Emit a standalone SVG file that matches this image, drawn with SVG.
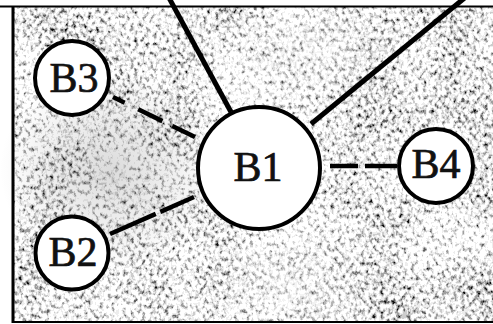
<svg xmlns="http://www.w3.org/2000/svg" width="493" height="324" viewBox="0 0 493 324">
  <defs>
    <!-- speckled grey ground: coarse-grained noise posterised to black, greys and white -->
    <filter id="grain" x="0" y="0" width="100%" height="100%" color-interpolation-filters="sRGB">
      <feTurbulence type="fractalNoise" baseFrequency="0.26 0.21" numOctaves="2" seed="7" result="fineRaw"/>
      <feColorMatrix in="fineRaw" type="matrix" values="1 0 0 0 0  1 0 0 0 0  1 0 0 0 0  0 0 0 0 1" result="fine"/>
      <feTurbulence type="fractalNoise" baseFrequency="0.015" numOctaves="2" seed="3" result="coarseRaw"/>
      <feColorMatrix in="coarseRaw" type="matrix" values="1 0 0 0 0  1 0 0 0 0  1 0 0 0 0  0 0 0 0 1" result="coarse"/>
      <feComposite in="fine" in2="coarse" operator="arithmetic" k1="0" k2="1.4" k3="0.4" k4="-0.33" result="mix"/>
      <feComponentTransfer in="mix">
        <feFuncR type="discrete" tableValues="0.05 0.38 0.62 0.8 0.93 1 1 1"/>
        <feFuncG type="discrete" tableValues="0.05 0.38 0.62 0.8 0.93 1 1 1"/>
        <feFuncB type="discrete" tableValues="0.05 0.38 0.62 0.8 0.93 1 1 1"/>
      </feComponentTransfer>
      <feGaussianBlur stdDeviation="0.45"/>
    </filter>
    <radialGradient id="lightTop" cx="0.5" cy="0.5" r="0.5">
      <stop offset="0" stop-color="#fff" stop-opacity="0.45"/>
      <stop offset="1" stop-color="#fff" stop-opacity="0"/>
    </radialGradient>
    <radialGradient id="darkLeft" cx="0.5" cy="0.5" r="0.5">
      <stop offset="0" stop-color="#888" stop-opacity="0.3"/>
      <stop offset="1" stop-color="#888" stop-opacity="0"/>
    </radialGradient>
  </defs>
  <style>
    .node { fill: #fff; stroke: #000; stroke-width: 4; }
    .label { font-family: "Liberation Serif", "Times New Roman", serif; font-size: 42px; fill: #111; stroke: #111; stroke-width: 0.7; text-anchor: middle; }
    .link { stroke: #000; stroke-width: 5; fill: none; }
    .dash { stroke: #000; stroke-width: 4.5; fill: none; }
  </style>

  <rect width="493" height="324" fill="#fff"/>

  <!-- textured field -->
  <g id="field">
    <rect x="14" y="7" width="479" height="315" fill="#fff" filter="url(#grain)"/>
    <ellipse cx="300" cy="55" rx="120" ry="70" fill="url(#lightTop)"/>
    <ellipse cx="290" cy="285" rx="110" ry="60" fill="url(#lightTop)"/>
    <ellipse cx="110" cy="170" rx="110" ry="100" fill="url(#darkLeft)"/>
    <line x1="0" y1="6.5" x2="493" y2="6.5" stroke="#000" stroke-width="2"/>
    <line x1="13" y1="6" x2="13" y2="323" stroke="#000" stroke-width="3"/>
    <line x1="12" y1="322" x2="493" y2="322" stroke="#000" stroke-width="2"/>
  </g>

  <g id="connectors">
    <line class="link" x1="168" y1="-4" x2="231" y2="112"/>
    <line class="link" x1="467" y1="-4" x2="311" y2="124"/>
    <line class="dash" x1="113" y1="97" x2="195" y2="137" stroke-dasharray="13 15 27 11 30"/>
    <line class="dash" x1="110" y1="234" x2="194" y2="197" stroke-dasharray="50 5 40"/>
    <line class="dash" x1="330" y1="166" x2="397" y2="166" stroke-dasharray="28 7 40"/>
  </g>

  <g id="B1">
    <circle class="node" cx="259" cy="168" r="61" stroke-width="4.5"/>
    <text class="label" x="258" y="181">B1</text>
  </g>
  <g id="B3">
    <circle class="node" cx="72" cy="78" r="37"/>
    <text class="label" x="74" y="92">B3</text>
  </g>
  <g id="B2">
    <circle class="node" cx="72" cy="253" r="36.5"/>
    <text class="label" x="73" y="266">B2</text>
  </g>
  <g id="B4">
    <circle class="node" cx="436" cy="166" r="37"/>
    <text class="label" x="436" y="178">B4</text>
  </g>
</svg>
